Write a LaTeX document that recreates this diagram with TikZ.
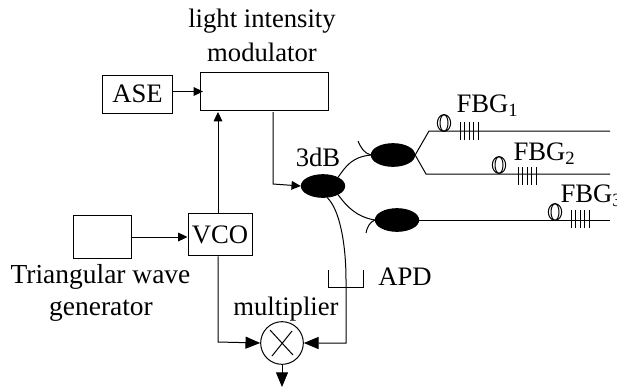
\documentclass[tikz,border=0pt]{standalone}
\usepackage{fontspec}
\setmainfont{Liberation Serif}
\usetikzlibrary{positioning,arrows.meta,shapes.geometric}

\begin{document}
\begin{tikzpicture}[
    x=0.75pt, y=-0.75pt,
    line width=0.75pt,
    every node/.style={font=\fontsize{20}{20}\selectfont},
    box/.style={draw, minimum width=#1, minimum height=28.5pt, inner sep=0pt, align=center},
    coupler/.style={draw, fill=black, ellipse, minimum width=32.5pt, minimum height=17pt, inner sep=0pt},
    coil/.style={draw, ellipse, minimum width=#1, minimum height=12.5pt, inner sep=0pt},
    lbl/.style={inner sep=0pt, anchor=base},
    arr/.style={-{Triangle[length=7pt, width=6.5pt]}},
    bigarr/.style={-{Triangle[length=11pt, width=9pt]}}
]
\useasboundingbox (0,0) rectangle (617,390);

% boxes
\node[box=53pt] (ase) at (137.5,94) {ASE};
\node[box=96.5pt] (mod) at (264.5,91) {};
\node[box=48pt, minimum height=32pt] (vco) at (220,234.5) {VCO};
\node[box=43.5pt, minimum height=32pt] (tri) at (102,237) {};

% couplers
\node[coupler] (db) at (323,186) {};
\node[coupler] (upper) at (393,155) {};
\node[coupler] (lower) at (397,220) {};

% multiplier
\node[draw, circle, minimum size=32pt, inner sep=0pt] (mult) at (282,343) {};
\draw (mult.center) ++(-12,-13) -- ++(23,25);
\draw (mult.center) ++(-10,13) -- ++(20,-25);

% labels
\node[lbl] (lightlbl) at (262,27) {light intensity};
\node[lbl] (modlbl) at (262,61) {modulator};
\node[lbl] (dblbl) at (318,166) {3dB};
\node[lbl, font=\fontsize{20.6}{20}\selectfont] (trilbl) at (100.5,283) {Triangular wave};
\node[lbl, font=\fontsize{20.6}{20}\selectfont] (genlbl) at (101,315) {generator};
\node[lbl] (multlbl) at (286,315) {multiplier};
\node[lbl] (apdlbl) at (405,285) {APD};
\node[lbl, anchor=base west] (fbgone) at (456,112) {FBG\textsubscript{1}};
\node[lbl, anchor=base west] (fbgtwo) at (513,160) {FBG\textsubscript{2}};
\node[lbl, anchor=base west] (fbgthree) at (560,202) {FBG\textsubscript{3}};

% block connectors
\coordinate (asein) at (203,91.5);
\coordinate (modout) at (273,112);
\coordinate (modin) at (218,112);
\coordinate (multout) at (282,387);
\draw[arr] (ase.east |- asein) -- (asein);
\draw[arr] (vco.north -| modin) -- (modin);
\draw[arr] (tri) -- (tri -| vco.west);
\draw[arr] (modout) -- (273,184) -- (db.west);
\draw[bigarr] (vco.south -| modin) -- (218,342) -- (mult.west);
\draw[bigarr] (mult.south) -- (multout);

% fibres
\coordinate (upend) at (610,131);
\coordinate (midend) at (610,174);
\coordinate (lowend) at (610,220);
\draw (upper.east) -- (429,131) -- (upend);
\draw (upper.east) -- (426,174) -- (midend);
\draw (lower.east) -- (lowend);
\draw (db.30) .. controls (346,166) and (352,157) .. (upper.west);
\draw (upper.west) .. controls (364,153) and (361,148) .. (358,141);
\draw (db.-30) .. controls (347,207) and (357,217) .. (lower.west);
\draw (lower.west) .. controls (370,222) and (367,227) .. (366,233);
\draw[bigarr] (db.-70) .. controls (340,210) and (346,245) .. (346,280) -- (346,343) -- (mult.east);

% apd
\coordinate (apdl) at (328,270);
\coordinate (apdr) at (363,270);
\draw (apdl) -- (328,287) -- (363,287) -- (apdr);

% fbg coils and gratings
\foreach \cx/\cy/\gx/\gy in {444/123/460/122, 499/165/518/167, 555/212/571/210}{
    \node[coil=10pt] (coilout) at (\cx,\cy) {};
    \node[coil=6pt] (coilin) at (\cx,\cy) {};
    \foreach \i in {0,...,4}
        \draw (\gx+4.6*\i,\gy) -- (\gx+4.6*\i,\gy+18);
}
\end{tikzpicture}
\end{document}
